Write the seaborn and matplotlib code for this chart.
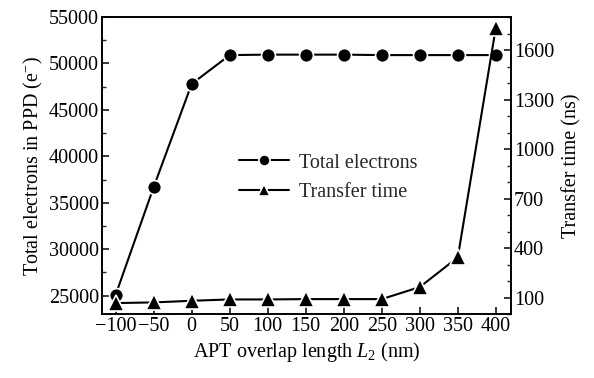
import matplotlib
matplotlib.use("Agg")
import matplotlib.pyplot as plt
from matplotlib.ticker import MultipleLocator, FixedLocator
from matplotlib.lines import Line2D
import seaborn as sns
import pandas as pd

overlap = [-100, -50, 0, 50, 100, 150, 200, 250, 300, 350, 400]
total_electrons = [25100, 36700, 47800, 50900, 50950, 50950, 50950, 50900, 50900, 50900, 50900]
transfer_time = [68, 72, 82, 90, 90, 92, 92, 92, 165, 345, 1735]
x_ticks = [-100, -50, 0, 50, 100, 150, 200, 250, 300, 350, 400]
left_ticks = [25000, 30000, 35000, 40000, 45000, 50000, 55000]
right_ticks = [100, 400, 700, 1000, 1300, 1600]

sns.set_theme(style="ticks")
plt.rcParams['font.family'] = ['Liberation Serif', 'DejaVu Serif']
plt.rcParams['mathtext.fontset'] = 'custom'
plt.rcParams['mathtext.it'] = 'Liberation Serif:italic'
plt.rcParams['mathtext.rm'] = 'Liberation Serif'
plt.rcParams['axes.unicode_minus'] = True

fs = 14.5
df = pd.DataFrame({"x": overlap, "e": total_electrons, "t": transfer_time})

fig = plt.figure(figsize=(5.94, 3.78), dpi=100)
ax = fig.add_axes([0.1717, 0.1685, 0.8603 - 0.1717, 0.955 - 0.1685])
ax2 = ax.twinx()

sns.lineplot(data=df, x="x", y="e", ax=ax, color="black", marker="o", markersize=10,
             linewidth=1.5, markeredgecolor="white", markeredgewidth=1.2)
sns.lineplot(data=df, x="x", y="t", ax=ax2, color="black", marker="^", markersize=11,
             linewidth=1.5, markeredgecolor="white", markeredgewidth=1.2)

ax.set_xlim(-118, 420)
ax.set_ylim(23000, 55000)
ax2.set_ylim(0, 1800)

ax.xaxis.set_major_locator(FixedLocator(x_ticks))
ax.yaxis.set_major_locator(FixedLocator(left_ticks))
ax.yaxis.set_minor_locator(MultipleLocator(2500))
ax2.yaxis.set_major_locator(FixedLocator(right_ticks))
ax2.yaxis.set_minor_locator(MultipleLocator(100))

for a in (ax, ax2):
    for s in a.spines.values():
        s.set_color("black")
        s.set_linewidth(1.2)
ax.tick_params(axis="both", which="major", direction="in", length=5, width=1.1,
               labelsize=fs, colors="black", pad=2)
ax.tick_params(axis="y", which="minor", direction="in", length=3, width=1.0)
ax2.tick_params(axis="y", which="major", direction="in", length=5, width=1.1,
                labelsize=fs, colors="black", pad=2)
ax2.tick_params(axis="y", which="minor", direction="in", length=3, width=1.0)
ax.tick_params(axis="x", which="minor", bottom=False)

ax.set_xlabel(r"APT overlap length $L_2$ (nm)", fontsize=fs, color="black", labelpad=3)
ax.set_ylabel("Total electrons in PPD (e$^{-}$)", fontsize=fs, color="black", labelpad=3)
ax2.set_ylabel("Transfer time (ns)", fontsize=fs, color="black", labelpad=6)

handles = [
    Line2D([], [], color="black", marker="o", markersize=8, linewidth=1.5,
           markeredgecolor="white", markeredgewidth=1.2),
    Line2D([], [], color="black", marker="^", markersize=9, linewidth=1.5,
           markeredgecolor="white", markeredgewidth=1.2),
]
ax.legend(handles, ["Total electrons", "Transfer time"], loc="center left",
          bbox_to_anchor=(0.29, 0.46), frameon=False, fontsize=fs,
          handlelength=2.5, handletextpad=0.5, labelspacing=0.5)

fig.savefig("out.png", dpi=100)
